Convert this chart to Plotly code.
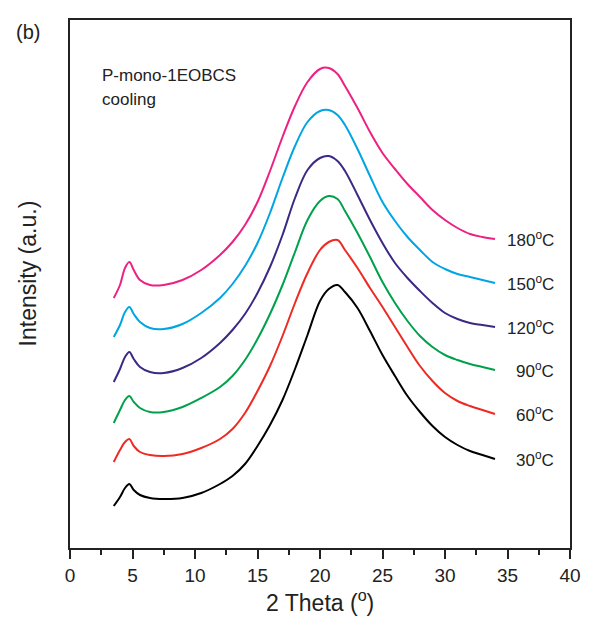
import plotly.graph_objects as go

# 2-theta sample positions (degrees)
two_theta = [3.5, 4.0, 4.4, 4.75, 5.1, 5.6, 6.4, 7.5, 9, 10.5, 12, 13, 14, 15, 16, 17, 18,
             19, 20, 20.7, 21.4, 22, 23, 24, 25, 26, 27, 28, 29, 30, 31, 32, 33, 34]

# intensities (a.u., stacked)
i_30 = [42, 51, 60, 64, 58, 53, 50, 49, 50, 55, 64, 72, 84, 102, 123, 148, 179,
        213, 247, 259, 263, 256, 240, 217, 193, 172, 152, 136, 122, 111, 103, 97, 93, 89]
i_60 = [86, 98, 106, 109, 102, 96, 93, 92, 94, 100, 109, 119, 135, 157, 182, 212, 245,
        275, 298, 306, 308, 298, 280, 260, 241, 221, 201, 182, 167, 155, 147, 142, 138, 134]
i_90 = [125, 138, 148, 152, 146, 140, 136, 136, 141, 150, 161, 172, 188, 209, 234, 263, 296,
        328, 347, 352, 349, 337, 315, 291, 266, 245, 227, 212, 201, 193, 188, 184, 181, 178]
i_120 = [166, 179, 191, 196, 189, 181, 176, 175, 180, 190, 205, 218, 234, 255, 281, 313, 350,
         378, 390, 392, 387, 377, 353, 328, 305, 285, 270, 257, 245, 235, 229, 225, 223, 221]
i_150 = [211, 223, 236, 241, 234, 226, 220, 219, 224, 235, 250, 264, 282, 305, 335, 370, 402,
         426, 437, 438, 433, 423, 399, 372, 346, 327, 311, 298, 286, 279, 274, 271, 268, 265]
i_180 = [250, 263, 280, 286, 278, 268, 263, 263, 268, 278, 293, 306, 323, 346, 377, 411, 442,
         466, 479, 480, 474, 462, 440, 416, 395, 379, 364, 351, 338, 328, 320, 314, 311, 309]

series = [
    ("30", i_30, "#000000"),
    ("60", i_60, "#ee2a24"),
    ("90", i_90, "#00a14b"),
    ("120", i_120, "#3c2885"),
    ("150", i_150, "#00a5e3"),
    ("180", i_180, "#ec2183"),
]

FONT = "Liberation Sans, Arial"
TXT = "#222222"

fig = go.Figure()
for name, vals, col in series:
    fig.add_trace(go.Scatter(x=two_theta, y=vals, mode="lines", name=name + "°C",
                             line=dict(color=col, width=2, shape="spline", smoothing=1.0),
                             showlegend=False, hoverinfo="skip"))
    fig.add_annotation(x=38.9, y=vals[-1], xref="x", yref="y", text=name + "<sup>o</sup>C",
                       showarrow=False, xanchor="right", yanchor="middle",
                       font=dict(family=FONT, size=17, color=TXT))

fig.add_annotation(x=0.06, y=0.8958, xref="paper", yref="paper", text="P-mono-1EOBCS",
                   showarrow=False, xanchor="left", yanchor="middle",
                   font=dict(family=FONT, size=17, color=TXT))
fig.add_annotation(x=0.06, y=0.8485, xref="paper", yref="paper", text="cooling",
                   showarrow=False, xanchor="left", yanchor="middle",
                   font=dict(family=FONT, size=17, color=TXT))
fig.add_annotation(x=-0.112, y=1.002, xref="paper", yref="paper", text="(b)",
                   showarrow=False, xanchor="left", yanchor="top",
                   font=dict(family=FONT, size=20, color=TXT))
# axis titles
fig.add_annotation(x=0.5, y=-0.1, xref="paper", yref="paper", text="2 Theta (<sup>o</sup>)",
                   showarrow=False, xanchor="center", yanchor="middle",
                   font=dict(family=FONT, size=23, color=TXT))
fig.add_annotation(x=-0.084, y=0.52, xref="paper", yref="paper", text="Intensity (a.u.)",
                   showarrow=False, xanchor="center", yanchor="middle", textangle=-90,
                   font=dict(family=FONT, size=23, color=TXT))

fig.update_layout(
    width=581, height=630,
    margin=dict(l=62, r=19, t=12, b=90, autoexpand=False),
    plot_bgcolor="white", paper_bgcolor="white",
    font=dict(family=FONT, color=TXT),
    xaxis=dict(range=[0, 40], tickmode="array", tickvals=[0, 5, 10, 15, 20, 25, 30, 35, 40],
               ticks="outside", ticklen=9, tickwidth=1.5, tickcolor=TXT,
               minor=dict(dtick=2.5, ticks="outside", ticklen=5, tickwidth=1.5, tickcolor=TXT),
               showline=True, linecolor=TXT, linewidth=1.5, mirror=True,
               showgrid=False, zeroline=False, automargin=False,
               tickfont=dict(size=19)),
    yaxis=dict(range=[0, 528], showticklabels=False, ticks="",
               showline=True, linecolor=TXT, linewidth=1.5, mirror=True,
               showgrid=False, zeroline=False, automargin=False),
)

fig.write_html("out.html")
